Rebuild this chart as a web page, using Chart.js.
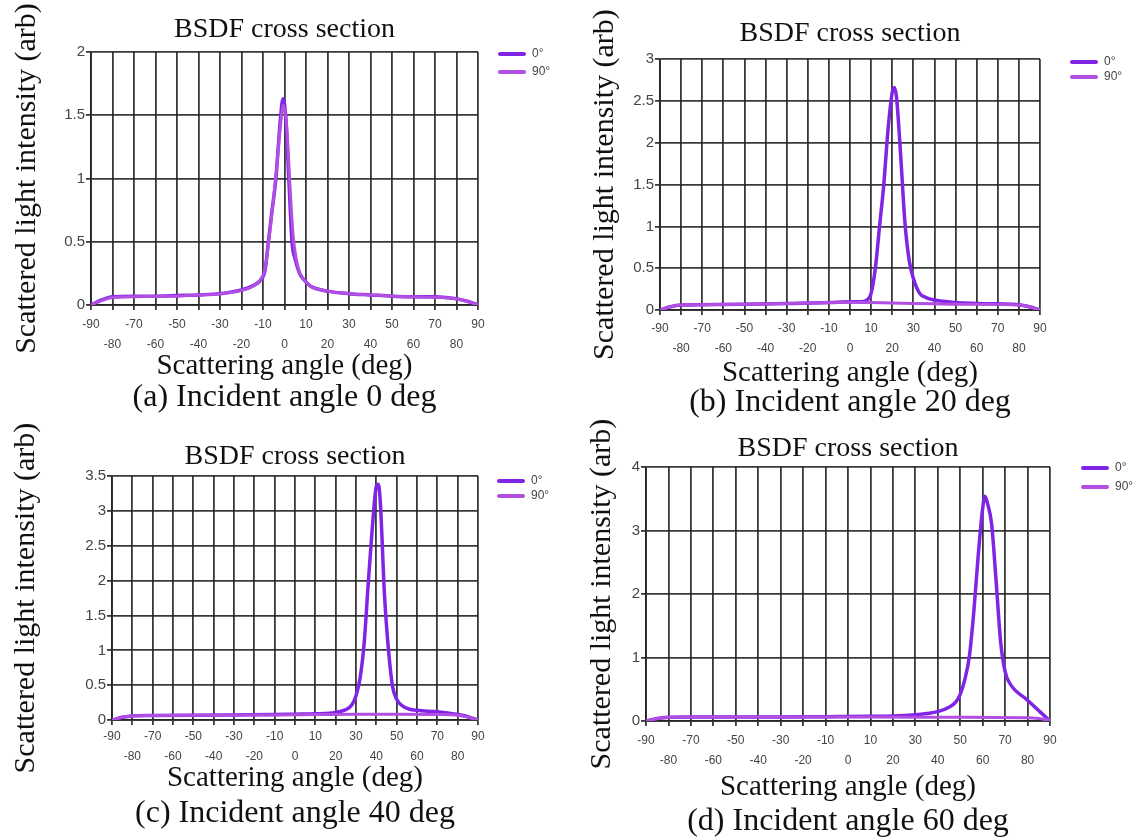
<!DOCTYPE html>
<html lang="en">
  <head>
    <meta charset="UTF-8" />
    <title>BSDF cross section</title>
    <script src="https://cdn.jsdelivr.net/npm/chart.js"></script>
    <style>
      body {
        margin: 0;
        background: #fff;
      }
      .page {
        position: relative;
        width: 1142px;
        height: 838px;
        overflow: hidden;
      }
      .panel {
        position: absolute;
      }
      .legend {
        position: absolute;
        font-family: "Liberation Sans", Arial, sans-serif;
        font-size: 12px;
        color: #444;
      }
      .legend div {
        position: absolute;
        white-space: nowrap;
        line-height: 12px;
      }
      .legend span {
        display: inline-block;
        width: 28px;
        height: 4px;
        margin-right: 6px;
        vertical-align: middle;
        border-radius: 2px;
      }
    </style>
  </head>
  <body>
    <div class="page" id="page"></div>
    <script>
      // x axis: scattering angle (deg)
      const angleMin = -90;
      const angleMax = 90;
      const angleStep = 10;
      const seriesNames = ["0°", "90°"];
      const captions = [
        "(a) Incident angle 0 deg",
        "(b) Incident angle 20 deg",
        "(c) Incident angle 40 deg",
        "(d) Incident angle 60 deg",
      ];
      const yMax = [2, 3, 3.5, 4];
      const yStep = [0.5, 0.5, 0.5, 1];

      // (a) incident 0 deg
      const aAngles0 = [-90, -85, -80, -70, -60, -50, -40, -30, -20, -15, -11, -9, -7.5, -6, -4, -2, -0.7, 0.5, 2, 3.5, 5, 7, 9, 12, 20, 30, 40, 50, 60, 70, 75, 80, 85, 90];
      const a0 = [0, 0.04, 0.065, 0.07, 0.07, 0.075, 0.08, 0.09, 0.12, 0.15, 0.2, 0.28, 0.5, 0.72, 1.0, 1.45, 1.63, 1.5, 1.0, 0.5, 0.36, 0.25, 0.2, 0.15, 0.11, 0.09, 0.08, 0.07, 0.065, 0.065, 0.06, 0.05, 0.03, 0];
      const aAngles90 = [-90, -85, -80, -70, -60, -50, -40, -30, -20, -15, -11, -9, -7.5, -6, -4, -2, -0.5, 1, 2.5, 4, 5.5, 7, 9, 12, 20, 30, 40, 50, 60, 70, 75, 80, 85, 90];
      const a90 = [0, 0.035, 0.06, 0.065, 0.068, 0.07, 0.078, 0.088, 0.115, 0.145, 0.2, 0.29, 0.48, 0.7, 1.02, 1.4, 1.58, 1.42, 0.95, 0.55, 0.36, 0.26, 0.2, 0.15, 0.11, 0.09, 0.08, 0.07, 0.065, 0.062, 0.058, 0.048, 0.03, 0];

      // (b) incident 20 deg
      const bAngles0 = [-90, -85, -80, -70, -50, -30, -10, 0, 5, 8, 10, 12, 14, 16, 18, 20, 21, 22, 24, 26, 28, 30, 33, 36, 40, 50, 60, 70, 80, 85, 90];
      const b0 = [0, 0.04, 0.06, 0.065, 0.07, 0.08, 0.09, 0.1, 0.1, 0.12, 0.2, 0.5, 1.0, 1.5, 2.15, 2.6, 2.66, 2.55, 1.85, 1.05, 0.6, 0.38, 0.2, 0.15, 0.12, 0.09, 0.08, 0.075, 0.065, 0.04, 0];
      const bAngles90 = [-90, -85, -80, -70, -50, -30, -10, 0, 10, 20, 30, 40, 50, 60, 70, 80, 85, 90];
      const b90 = [0, 0.04, 0.06, 0.065, 0.07, 0.08, 0.09, 0.095, 0.09, 0.085, 0.08, 0.075, 0.07, 0.07, 0.068, 0.06, 0.04, 0];

      // (c) incident 40 deg
      const cAngles0 = [-90, -85, -80, -70, -50, -30, -10, 0, 10, 20, 25, 28, 30, 32, 34, 36, 38, 40, 41, 42, 44, 46, 48, 50, 53, 56, 60, 70, 80, 85, 90];
      const c0 = [0, 0.04, 0.06, 0.065, 0.07, 0.075, 0.08, 0.085, 0.09, 0.11, 0.15, 0.22, 0.35, 0.6, 1.1, 1.95, 2.75, 3.35, 3.38, 3.1, 1.8, 1.0, 0.48, 0.3, 0.2, 0.16, 0.14, 0.12, 0.08, 0.05, 0];
      const cAngles90 = [-90, -85, -80, -70, -50, -30, -10, 10, 30, 50, 70, 80, 85, 90];
      const c90 = [0, 0.04, 0.06, 0.065, 0.07, 0.072, 0.075, 0.08, 0.085, 0.085, 0.08, 0.07, 0.04, 0];

      // (d) incident 60 deg
      const dAngles0 = [-90, -85, -80, -70, -50, -30, -10, 10, 20, 30, 35, 40, 45, 48, 50, 52, 54, 56, 58, 60, 61, 62, 64, 66, 68, 70, 72, 80, 90];
      const d0 = [0, 0.04, 0.06, 0.065, 0.065, 0.065, 0.07, 0.075, 0.08, 0.1, 0.12, 0.15, 0.22, 0.3, 0.42, 0.65, 1.0, 1.7, 2.6, 3.35, 3.54, 3.45, 3.1, 2.2, 1.25, 0.78, 0.6, 0.33, 0];
      const dAngles90 = [-90, -85, -80, -70, -30, 10, 50, 80, 85, 90];
      const d90 = [0, 0.04, 0.06, 0.065, 0.065, 0.065, 0.06, 0.055, 0.04, 0.01];

      const panelData = [
        [aAngles0, a0, aAngles90, a90],
        [bAngles0, b0, bAngles90, b90],
        [cAngles0, c0, cAngles90, c90],
        [dAngles0, d0, dAngles90, d90],
      ];

      const colors = ["#8024e6", "#b14fe2"];
      const serif = "'Liberation Serif', 'Times New Roman', serif";
      const sans = "'Liberation Sans', Arial, sans-serif";
      const gridColor = "rgba(35,35,35,0.9)";

      // page placement and paddings of each panel
      const frames = [
        { left: 0, top: 0, yw: 91, yt: 12, pr: 82, tt: 13.2, tb: 5.2, tp: 5.1, xt: 0, ct: 9.6, pb: 5.4, legX: 498, legY: 53, legGap: 18 },
        { left: 571, top: 0, yw: 89, yt: 19, pr: 91, tt: 17.2, tb: 8.2, tp: 4.1, xt: 3.9, ct: 8.0, pb: 0, legX: 1070, legY: 61, legGap: 15 },
        { left: 0, top: 419, yw: 112, yt: 11.4, pr: 82, tt: 21.2, tb: 2.2, tp: 2.1, xt: 2.9, ct: 13.6, pb: 8.4, legX: 497, legY: 480, legGap: 15 },
        { left: 571, top: 419, yw: 75, yt: 16, pr: 81, tt: 13.2, tb: 1.2, tp: 5.1, xt: 4.9, ct: 12.6, pb: 0.4, legX: 1081, legY: 467, legGap: 19 },
      ];

      const toPoints = function (xs, ys) {
        return xs.map(function (x, i) {
          return { x: x, y: ys[i] };
        });
      };

      const page = document.getElementById("page");

      frames.forEach(function (f, idx) {
        const box = document.createElement("div");
        box.className = "panel";
        box.style.left = f.left + "px";
        box.style.top = f.top + "px";
        const canvas = document.createElement("canvas");
        canvas.width = 560;
        canvas.height = 419;
        box.appendChild(canvas);
        page.appendChild(box);

        // legend
        const leg = document.createElement("div");
        leg.className = "legend";
        leg.style.left = f.legX + "px";
        leg.style.top = f.legY - 6 + "px";
        seriesNames.forEach(function (name, k) {
          const row = document.createElement("div");
          row.style.top = k * f.legGap + "px";
          row.innerHTML = '<span style="background:' + colors[k] + ";height:" + (k === 0 ? 4.5 : 3.5) + 'px"></span>' + name;
          leg.appendChild(row);
        });
        page.appendChild(leg);

        const d = panelData[idx];
        new Chart(canvas, {
          type: "line",
          data: {
            datasets: [
              {
                label: seriesNames[0],
                data: toPoints(d[0], d[1]),
                borderColor: colors[0],
                backgroundColor: colors[0],
                borderWidth: 3.5,
                pointRadius: 0,
                cubicInterpolationMode: "monotone",
                order: 1,
              },
              {
                label: seriesNames[1],
                data: toPoints(d[2], d[3]),
                borderColor: colors[1],
                backgroundColor: colors[1],
                borderWidth: 3,
                pointRadius: 0,
                cubicInterpolationMode: "monotone",
                order: 0,
              },
            ],
          },
          options: {
            responsive: false,
            animation: false,
            layout: { padding: { left: 0, right: f.pr, top: 0, bottom: f.pb } },
            plugins: {
              legend: { display: false },
              tooltip: { enabled: false },
              title: {
                display: true,
                fullSize: false,
                text: "BSDF cross section",
                color: "#111",
                font: { family: serif, size: 28, weight: "normal", lineHeight: 1.2 },
                padding: { top: f.tt, bottom: f.tb },
              },
              subtitle: {
                display: true,
                fullSize: false,
                position: "bottom",
                text: captions[idx],
                color: "#111",
                font: { family: serif, size: 32, weight: "normal", lineHeight: 1 },
                padding: { top: f.ct, bottom: 0 },
              },
            },
            scales: {
              x: {
                type: "linear",
                min: angleMin,
                max: angleMax,
                ticks: {
                  stepSize: angleStep,
                  autoSkip: false,
                  maxRotation: 0,
                  minRotation: 0,
                  padding: f.tp,
                  color: "#444",
                  font: { family: sans, size: 12, lineHeight: 1.65 },
                  callback: function (v) {
                    // odd tens on the upper row, even tens on the lower row
                    return Math.round(v / 10) % 2 !== 0 ? [String(v), ""] : ["", String(v)];
                  },
                },
                grid: { color: gridColor, lineWidth: 1.8, tickLength: 5 },
                border: { color: gridColor, width: 1.8 },
                title: {
                  display: true,
                  text: "Scattering angle (deg)",
                  color: "#111",
                  font: { family: serif, size: 29, lineHeight: 0.42 },
                  padding: { top: f.xt, bottom: 0 },
                },
              },
              y: {
                min: 0,
                max: yMax[idx],
                ticks: {
                  stepSize: yStep[idx],
                  padding: 1,
                  color: "#444",
                  font: { family: sans, size: 15 },
                  callback: function (v) {
                    return String(v);
                  },
                },
                grid: { color: gridColor, lineWidth: 1.8, tickLength: 5 },
                border: { color: gridColor, width: 1.8 },
                title: {
                  display: true,
                  text: "Scattered light intensity (arb)",
                  color: "#111",
                  font: { family: serif, size: 30, lineHeight: 1 },
                  padding: { top: f.yt, bottom: 0 },
                },
                afterFit: function (scale) {
                  scale.width = f.yw;
                },
              },
            },
          },
        });
      });
    </script>
  </body>
</html>
